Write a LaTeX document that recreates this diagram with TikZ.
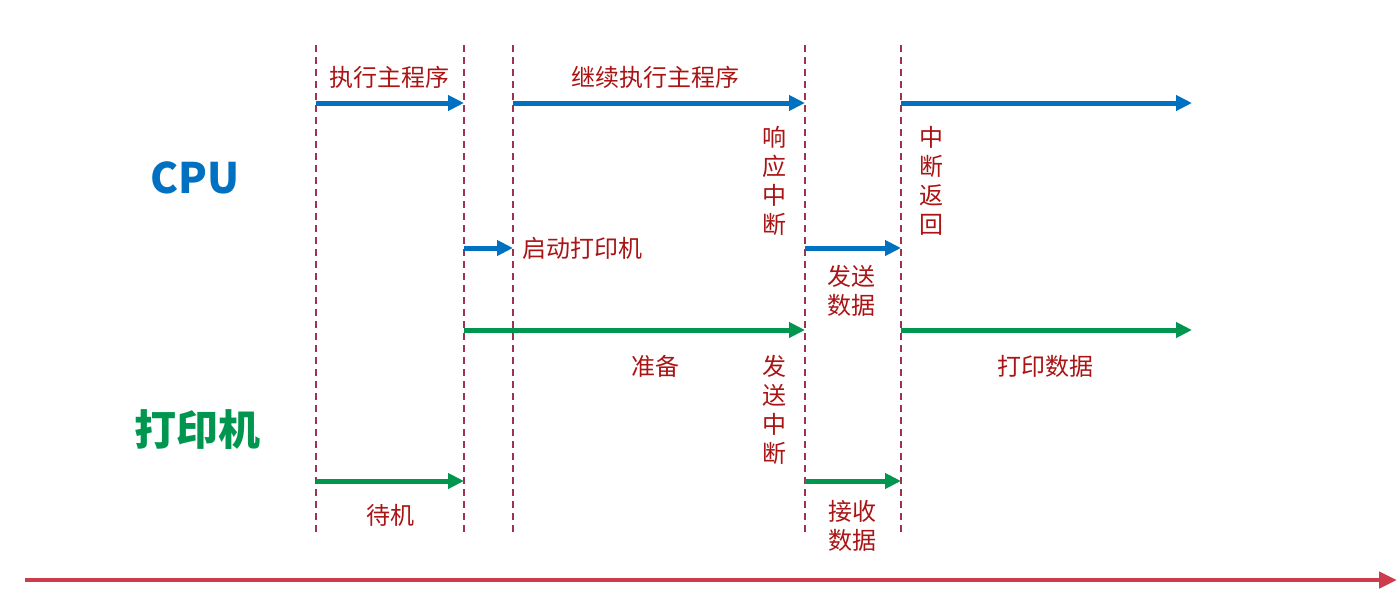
\documentclass[tikz,border=0pt]{standalone}
\usepackage{fontspec}
\setmainfont{Noto Sans CJK SC}
\usetikzlibrary{arrows.meta}
\definecolor{cpublue}{RGB}{0,112,192}
\definecolor{prngreen}{RGB}{0,150,80}
\definecolor{lblred}{RGB}{170,20,20}
\definecolor{dashc}{RGB}{160,50,80}
\definecolor{timered}{RGB}{205,60,75}
\begin{document}
\begin{tikzpicture}[x=1pt,y=-1pt,
  vline/.style={draw=dashc, line width=1.2pt, dash pattern=on 7pt off 5pt},
  barrow/.style={draw=cpublue, line width=5pt, -{Triangle[length=16pt,width=15pt]}},
  garrow/.style={draw=prngreen, line width=5pt, -{Triangle[length=16pt,width=15pt]}},
  tarrow/.style={draw=timered, line width=4.5pt, -{Triangle[length=18pt,width=16pt]}},
  lbl/.style={text=lblred, font=\fontsize{24}{29}\selectfont, inner sep=0pt, align=center},
  title/.style={inner sep=0pt, font=\bfseries\fontsize{42}{46}\selectfont}
]
\useasboundingbox (0,0) rectangle (1400,597);
% dashed time markers
\foreach \n/\x in {t1/316,t2/464,t3/513,t4/805,t5/901}{
  \coordinate (\n top) at (\x,45);
  \coordinate (\n bot) at (\x,535);
  \draw[vline] (\n top) -- (\n bot);
}
% arrow end points
\coordinate (c1s) at (316,103); \coordinate (c1e) at (464,103);
\coordinate (c2s) at (513,103); \coordinate (c2e) at (805,103);
\coordinate (c3s) at (901,103); \coordinate (c3e) at (1192,103);
\coordinate (c4s) at (464,248); \coordinate (c4e) at (513,248);
\coordinate (c5s) at (805,248); \coordinate (c5e) at (901,248);
\coordinate (g1s) at (464,330); \coordinate (g1e) at (805,330);
\coordinate (g2s) at (901,330); \coordinate (g2e) at (1192,330);
\coordinate (g3s) at (316,481); \coordinate (g3e) at (464,481);
\coordinate (g4s) at (805,481); \coordinate (g4e) at (901,481);
\coordinate (ts) at (25,580); \coordinate (te) at (1397,580);

\draw[barrow] (c1s) -- (c1e);
\draw[barrow] (c2s) -- (c2e);
\draw[barrow] (c3s) -- (c3e);
\draw[barrow] (c4s) -- (c4e);
\draw[barrow] (c5s) -- (c5e);
\draw[garrow] (g1s) -- (g1e);
\draw[garrow] (g2s) -- (g2e);
\draw[garrow] (g3s) -- (g3e);
\draw[garrow] (g4s) -- (g4e);
\draw[tarrow] (ts) -- (te);

% titles
\node[title, text=cpublue] (cpu) at (195,178) {CPU};
\node[title, text=prngreen] (prn) at (197,430) {打印机};

% labels
\node[lbl] (l1) at (389,77) {执行主程序};
\node[lbl] (l2) at (655,77) {继续执行主程序};
\node[lbl, anchor=west] (l3) at (522,248) {启动打印机};
\node[lbl] (l4) at (774,181) {响\\应\\中\\断};
\node[lbl] (l5) at (931,181) {中\\断\\返\\回};
\node[lbl] (l6) at (851,291) {发送\\数据};
\node[lbl] (l7) at (655,366) {准备};
\node[lbl] (l8) at (774,410) {发\\送\\中\\断};
\node[lbl] (l9) at (1045,366) {打印数据};
\node[lbl] (l10) at (390,515) {待机};
\node[lbl] (l11) at (852,526) {接收\\数据};
\end{tikzpicture}
\end{document}
